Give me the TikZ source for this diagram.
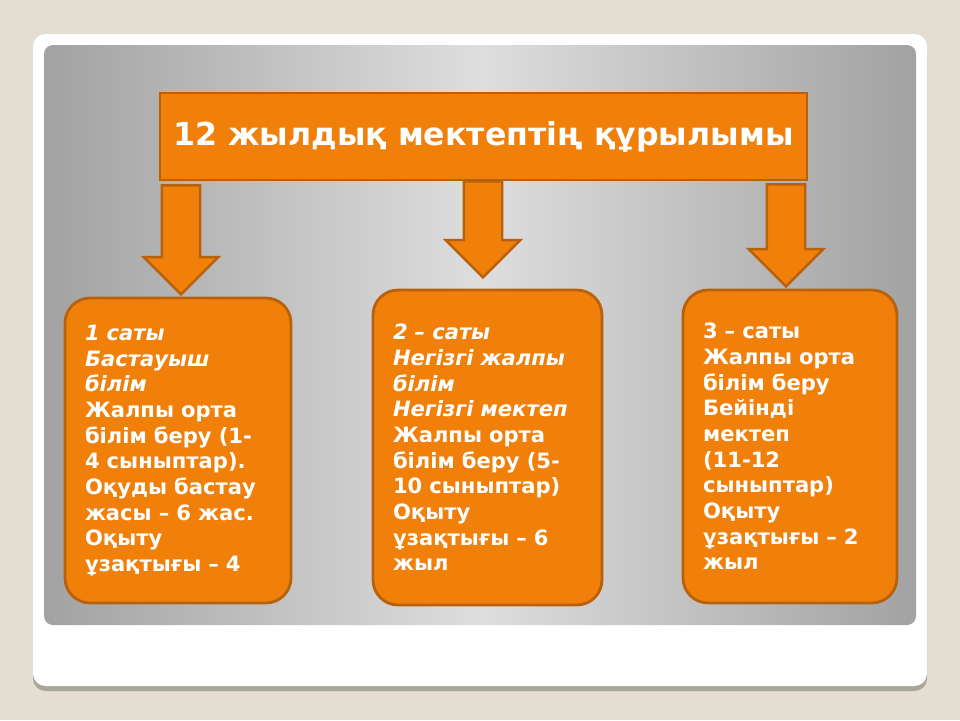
\documentclass[tikz,border=0pt]{standalone}
\usepackage{fontspec}
\setmainfont{DejaVu Sans}
\usetikzlibrary{shapes.arrows}
\definecolor{pagebeige}{HTML}{E3DDD2}
\definecolor{cardshadow}{HTML}{A6A69C}
\definecolor{panelgray}{HTML}{A2A2A2}
\definecolor{panellight}{HTML}{DEDEDE}
\definecolor{stageorange}{HTML}{F08009}
\definecolor{stageedge}{HTML}{B8610C}
\tikzset{
  titlebox/.style={draw=stageedge, line width=1.6pt, fill=stageorange, text=white,
    font=\bfseries\fontsize{18}{22}\selectfont, minimum width=12.94cm, minimum height=1.74cm},
  stagebox/.style={draw=stageedge, line width=1.6pt, fill=stageorange, text=white,
    rounded corners=0.5cm, align=left, inner sep=0.4cm,
    font=\bfseries\fontsize{12}{14.6}\selectfont},
  bigarrow/.style={single arrow, draw=stageedge, line width=1.4pt, fill=stageorange,
    minimum height=#1, inner xsep=0.36cm, inner ysep=0pt, outer sep=0pt,
    single arrow head extend=0.36cm, shape border rotate=270, anchor=tail, pos=0}
}
\begin{document}
\begin{tikzpicture}[x=0.02cm,y=-0.02cm]
\useasboundingbox (0,0) rectangle (960,720);
\fill[pagebeige] (0,0) rectangle (960,720);
% card and panel
\fill[cardshadow, rounded corners=0.25cm] (33,38) rectangle (927,691);
\fill[white, rounded corners=0.25cm] (33,34) rectangle (927,686);
\shade[rounded corners=0.18cm, left color=panelgray, right color=panelgray, middle color=panellight]
  (44,45) rectangle (916,625);

% title
\node[titlebox] (title) at (483.5,136.5) {12 жылдық мектептің құрылымы};

% stages
\node[stagebox, minimum width=4.52cm, minimum height=6.1cm, text width=3.72cm] (s1) at (178,450.5)
  {{\itshape 1 саты}\\ {\itshape Бастауыш}\\ {\itshape білім}\\ Жалпы орта\\ білім беру (1-\\ 4 сыныптар).\\
   Оқуды бастау\\ жасы – 6 жас.\\ Оқыту\\ ұзақтығы – 4};
\node[stagebox, minimum width=4.58cm, minimum height=6.3cm, text width=3.78cm] (s2) at (487.5,447.5)
  {{\itshape 2 – саты}\\ {\itshape Негізгі жалпы}\\ {\itshape білім}\\ {\itshape Негізгі мектеп}\\ Жалпы орта\\
   білім беру (5-\\ 10 сыныптар)\\ Оқыту\\ ұзақтығы – 6\\ жыл};
\node[stagebox, minimum width=4.28cm, minimum height=6.26cm, text width=3.48cm] (s3) at (790,446.5)
  {3 – саты\\ Жалпы орта\\ білім беру\\ Бейінді\\ мектеп\\ (11-12\\ сыныптар)\\ Оқыту\\
   ұзақтығы – 2\\ жыл};

% arrows
\path ([yshift=-0.08cm]title.south -| 181,0) -- node[bigarrow=2.18cm] (a1) {} (s1.north -| 181,0);
\path (title.south -| 483,0) -- node[bigarrow=1.92cm] (a2) {} (s2.north -| 483,0);
\path ([yshift=-0.06cm]title.south -| 786,0) -- node[bigarrow=2.04cm] (a3) {} (s3.north -| 786,0);
\end{tikzpicture}
\end{document}
